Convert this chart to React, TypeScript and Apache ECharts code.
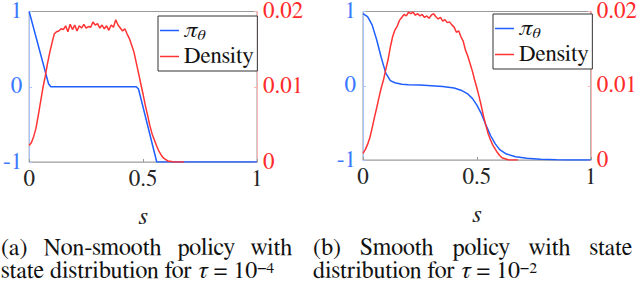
import React, { useEffect, useRef } from "react";
import * as echarts from "echarts";

// ---------- data ----------
const xTicks = ["0", "0.5", "1"];
// density histogram positions (s), step 0.01 from 0 to 0.68
const densityS = Array.from({ length: 69 }, (_, i) => i / 100);

const densityA = [
  0.0022, 0.0026, 0.0034, 0.0045, 0.0062, 0.008, 0.0098, 0.0113, 0.013, 0.0145,
  0.0158, 0.017, 0.0173, 0.0174, 0.0177, 0.0176, 0.0181, 0.0173, 0.0183, 0.0176,
  0.0182, 0.0174, 0.0181, 0.0178, 0.0183, 0.0178, 0.018, 0.0179, 0.0186, 0.0182,
  0.0184, 0.0178, 0.0182, 0.0177, 0.0181, 0.0175, 0.0182, 0.0179, 0.0189, 0.0182,
  0.0178, 0.0174, 0.0177, 0.017, 0.0164, 0.0155, 0.0146, 0.0132, 0.0118, 0.0104,
  0.009, 0.0075, 0.0062, 0.0048, 0.0037, 0.0029, 0.0021, 0.0014, 0.0009, 0.0005,
  0.0003, 0.0001, 0.0001, 0, 0, 0, 0, 0, 0,
];

const densityB = [
  0.0009, 0.0014, 0.0021, 0.003, 0.0043, 0.0057, 0.007, 0.0084, 0.0097, 0.0108,
  0.0122, 0.0135, 0.0152, 0.0166, 0.0175, 0.018, 0.0188, 0.0192, 0.0196, 0.0194,
  0.0199, 0.0197, 0.0199, 0.0195, 0.0197, 0.0194, 0.0196, 0.0192, 0.0194, 0.0191,
  0.0195, 0.0197, 0.0193, 0.019, 0.0192, 0.0187, 0.0189, 0.0185, 0.0186, 0.0182,
  0.0179, 0.0172, 0.0174, 0.0166, 0.016, 0.0148, 0.014, 0.013, 0.012, 0.0108,
  0.0097, 0.0085, 0.0072, 0.0058, 0.0046, 0.0035, 0.0027, 0.002, 0.0015, 0.001,
  0.0006, 0.0003, 0.0002, 0.0001, 0, 0, 0, 0, 0,
];

// policy (non-smooth)
const policyAS = [0, 0.085, 0.095, 0.47, 0.48, 0.56, 1];
const policyAV = [1, 0.04, 0, 0, -0.03, -1, -1];

// policy (smooth)
const policyBS = [
  0, 0.02, 0.04, 0.06, 0.08, 0.1, 0.12, 0.14, 0.17, 0.2, 0.25, 0.3, 0.35, 0.4,
  0.43, 0.46, 0.48, 0.5, 0.52, 0.54, 0.56, 0.58, 0.6, 0.63, 0.67, 0.72, 0.78,
  0.85, 0.9, 1,
];
const policyBV = [
  0.97, 0.93, 0.82, 0.62, 0.38, 0.17, 0.07, 0.04, 0.02, 0.015, 0.01, 0, -0.01,
  -0.03, -0.06, -0.11, -0.17, -0.26, -0.38, -0.53, -0.67, -0.78, -0.86, -0.92,
  -0.955, -0.975, -0.99, -0.997, -1, -1,
];

const captionA1 = ["(a)", "Non-smooth", "policy", "with"];
const captionA2 = { pre: "state distribution for ", sym: "τ", mid: " = 10", exp: "−4" };
const captionB1 = ["(b)", "Smooth", "policy", "with", "state"];
const captionB2 = { pre: "distribution for ", sym: "τ", mid: " = 10", exp: "−2" };

// ---------- styling ----------
const FONT = "FreeSerif, DejaVu Serif, serif";
const BLUE = "#1f5eff";
const RED = "#ff3333";
const BLUE_LBL = "#3a78ff";
const RED_LBL = "#ff2a2a";
const DARK = "#262626";

const pairs = (xs: number[], ys: number[]) => xs.map((x, i) => [x, ys[i]]);

function justified(words: string[]) {
  return words.map((w) => `{w|${w}}`).join(`{g| }`);
}

function buildOption() {
  const grids = [
    { left: 27, top: 11, width: 230, height: 151 },
    { left: 363, top: 10, width: 229, height: 150 },
  ];
  const xAxis = grids.map((_, i) => ({
    gridIndex: i,
    type: "value",
    min: 0,
    max: 1,
    interval: 0.5,
    axisLine: { show: true, onZero: false, lineStyle: { color: "#b5b5b5", width: 1 } },
    axisTick: { show: true, inside: true, length: 3, lineStyle: { color: "#999" } },
    splitLine: { show: false },
    axisLabel: {
      color: DARK,
      fontSize: 23,
      fontFamily: FONT,
      margin: 6,
      formatter: (v: number) => xTicks[Math.round(v * 2)],
    },
    name: "s",
    nameLocation: "middle",
    nameGap: 42,
    nameTextStyle: { fontStyle: "italic", fontSize: 25, fontFamily: FONT, color: DARK },
  }));
  const yAxis: any[] = [];
  grids.forEach((_, i) => {
    yAxis.push({
      gridIndex: i,
      type: "value",
      position: "left",
      min: -1,
      max: 1,
      interval: 1,
      axisLine: { show: true, onZero: false, lineStyle: { color: "#a8c1ff", width: 1 } },
      axisTick: { show: true, inside: true, length: 3, lineStyle: { color: "#a8c1ff" } },
      splitLine: { show: false },
      axisLabel: { color: BLUE_LBL, fontSize: 23, lineHeight: 20, fontFamily: FONT, margin: 7 },
    });
    yAxis.push({
      gridIndex: i,
      type: "value",
      position: "right",
      min: 0,
      max: 0.02,
      interval: 0.01,
      axisLine: { show: true, onZero: false, lineStyle: { color: "#ffb3b3", width: 1 } },
      axisTick: { show: true, inside: true, length: 3, lineStyle: { color: "#ffb3b3" } },
      splitLine: { show: false },
      axisLabel: {
        color: RED_LBL,
        fontSize: 23,
        lineHeight: 20,
        fontFamily: FONT,
        margin: 6,
        formatter: (v: number) => (v === 0 ? "0" : v.toFixed(2)),
      },
    });
  });

  const lineSeries = (
    name: string,
    data: number[][],
    color: string,
    xi: number,
    yi: number
  ) => ({
    name,
    type: "line",
    xAxisIndex: xi,
    yAxisIndex: yi,
    data,
    symbol: "none",
    lineStyle: { color, width: 1.5 },
    itemStyle: { color },
    z: 3,
  });

  const series = [
    lineSeries("πθ", pairs(policyAS, policyAV), BLUE, 0, 0),
    lineSeries("Density", pairs(densityS, densityA), RED, 0, 1),
    lineSeries("πθ", pairs(policyBS, policyBV), BLUE, 1, 2),
    lineSeries("Density", pairs(densityS, densityB), RED, 1, 3),
  ];

  const legendBase = {
    orient: "vertical",
    data: ["πθ", "Density"],
    selectedMode: false,
    icon: "rect",
    itemWidth: 19,
    itemHeight: 1.5,
    itemGap: 2,
    padding: [3, 4, 3, 2],
    borderColor: "#333",
    borderWidth: 1,
    borderRadius: 0,
    backgroundColor: "#fff",
    formatter: (n: string) => (n === "πθ" ? "{p|π}{q|θ}" : "{d|Density}"),
    textStyle: {
      fontFamily: FONT,
      fontSize: 23,
      color: "#111",
      rich: {
        p: { fontFamily: FONT, fontSize: 23, fontStyle: "italic", color: "#111", lineHeight: 22 },
        q: {
          fontFamily: FONT,
          fontSize: 16,
          fontStyle: "italic",
          color: "#111",
          padding: [9, 0, 0, 0],
        },
        d: { fontFamily: FONT, fontSize: 23, color: "#111", lineHeight: 22 },
      },
    },
  };

  const capFont = 24;
  const LH = 23;
  const capRich = (gap: number) => ({
    w: { fontFamily: FONT, fontSize: capFont, fill: "#111", lineHeight: LH },
    g: { fontFamily: FONT, fontSize: capFont, fill: "#111", width: gap, lineHeight: LH },
    t: { fontFamily: FONT, fontSize: capFont, fill: "#111", lineHeight: LH },
    m: { fontFamily: FONT, fontSize: capFont, fontStyle: "italic", fill: "#111", lineHeight: LH },
    u: { fontFamily: FONT, fontSize: 16, fill: "#111", lineHeight: 14, verticalAlign: "top" },
  });
  const line2 = (c: any) => `{t|${c.pre}}{m|${c.sym}}{t|${c.mid}}{u|${c.exp}}`;

  const graphic = [
    { type: "text", left: 1, top: 236, style: { text: justified(captionA1), rich: capRich(16) } },
    { type: "text", left: 1, top: 259, style: { text: line2(captionA2), rich: capRich(6) } },
    { type: "text", left: 313, top: 236, style: { text: justified(captionB1), rich: capRich(19) } },
    { type: "text", left: 313, top: 259, style: { text: line2(captionB2), rich: capRich(6) } },
  ];

  return {
    animation: false,
    grid: grids.map((g) => ({
      ...g,
      show: true,
      borderColor: "#9a9a9a",
      borderWidth: 1,
      backgroundColor: "transparent",
    })),
    xAxis,
    yAxis,
    legend: [
      { ...legendBase, left: 158, top: 16 },
      { ...legendBase, left: 493, top: 14 },
    ],
    series,
    graphic,
  };
}

export default function App() {
  const ref = useRef<HTMLDivElement>(null);
  useEffect(() => {
    if (!ref.current) return;
    const chart = echarts.init(ref.current, null, { renderer: "svg" });
    chart.setOption(buildOption() as any);
    return () => chart.dispose();
  }, []);
  return (
    <div
      ref={ref}
      style={{ position: "fixed", left: 0, top: 0, width: 640, height: 282, background: "#fff" }}
    />
  );
}
